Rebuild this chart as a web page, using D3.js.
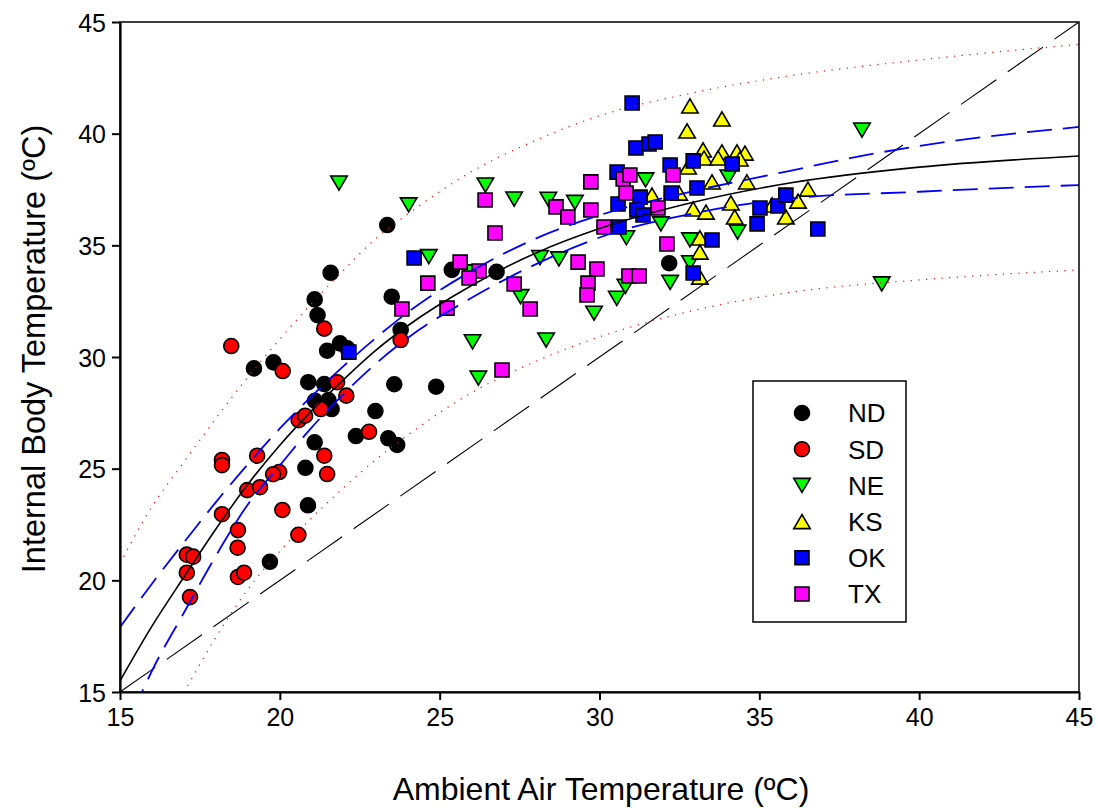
<!DOCTYPE html>
<html>
<head>
<meta charset="utf-8">
<script src="https://cdn.jsdelivr.net/npm/d3@7"></script>
<style>
  html, body { margin: 0; padding: 0; background: #fff; }
  svg { display: block; font-family: "Liberation Sans", Arial, sans-serif; }
</style>
</head>
<body>
<svg id="chart" width="1098" height="808"></svg>
<script>
// Body temperature vs ambient air temperature, by state.

const xTicks = [15, 20, 25, 30, 35, 40, 45];
const yTicks = [15, 20, 25, 30, 35, 40, 45];

const states = ["ND", "SD", "NE", "KS", "OK", "TX"];

// [ambient °C, internal °C]
const ND = [[23.36,35.91],[21.59,33.77],[21.09,32.58],[21.18,31.87],[23.50,32.70],[23.78,31.21],
  [21.88,30.61],[22.11,30.39],[21.48,30.28],[19.19,29.49],[19.80,29.76],[20.89,28.87],[21.39,28.79],
  [23.58,28.78],[24.89,28.67],[21.10,28.04],[21.52,28.07],[21.62,27.67],[22.99,27.58],[21.09,26.18],
  [22.38,26.46],[23.39,26.36],[23.67,26.06],[20.80,25.04],[20.88,23.36],[19.69,20.83],[25.38,33.90],
  [26.78,33.81],[32.18,34.20]];
const SD = [[18.48,30.49],[21.39,31.27],[23.78,30.76],[20.09,29.37],[21.79,28.87],[22.08,28.27],
  [21.28,27.67],[20.59,27.17],[20.79,27.37],[22.79,26.65],[21.39,25.58],[19.29,25.58],[18.19,25.39],
  [18.19,25.16],[21.48,24.76],[19.98,24.85],[19.79,24.75],[18.98,24.04],[19.38,24.17],[18.19,22.96],
  [20.08,23.15],[18.69,22.25],[18.68,21.46],[20.58,22.04],[17.09,21.15],[17.29,21.06],[17.09,20.34],
  [18.69,20.15],[18.88,20.34],[17.19,19.25]];
const NE = [[21.85,37.79],[24.03,36.81],[24.66,34.49],[26.43,37.70],[27.33,37.07],[28.40,37.06],
  [29.23,36.92],[28.14,34.45],[28.73,34.39],[27.53,32.70],[26.03,30.68],[28.33,30.76],[26.21,29.05],
  [29.83,31.96],[30.54,32.63],[30.81,33.16],[30.84,35.34],[31.44,37.93],[31.92,35.96],[32.21,33.34],
  [32.83,35.24],[32.83,34.22],[34.03,38.06],[34.32,35.59],[38.21,40.16],[38.83,33.27],[25.92,33.81]];
const KS = [[32.83,41.24],[33.83,40.66],[32.74,40.12],[33.24,39.27],[33.83,39.18],[34.30,39.18],
  [34.55,39.13],[33.27,38.91],[33.71,38.91],[32.77,38.51],[33.52,37.84],[34.61,37.84],[36.52,37.52],
  [31.64,37.25],[32.49,37.34],[32.93,36.63],[33.33,36.49],[34.11,36.90],[34.23,36.27],[36.21,36.98],
  [35.83,36.27],[35.40,36.81],[33.14,35.33],[33.14,34.70],[33.14,33.58],[34.39,38.87]];
const OK = [[31.02,41.37],[31.14,39.36],[31.55,39.54],[31.74,39.63],[32.21,38.60],[32.93,38.78],
  [34.15,38.64],[33.05,37.57],[32.24,37.34],[31.27,37.16],[30.58,36.85],[31.17,36.58],[31.36,36.36],
  [30.61,35.82],[35.02,36.67],[34.93,35.96],[35.58,36.76],[35.83,37.25],[36.83,35.73],[33.52,35.24],
  [32.93,33.76],[24.20,34.43],[22.16,30.22],[30.55,38.28]];
const TX = [[26.42,37.03],[26.73,35.55],[25.64,34.25],[26.23,33.85],[25.92,33.54],[24.63,33.31],
  [23.82,32.15],[25.23,32.19],[27.33,33.27],[27.83,32.15],[26.95,29.42],[28.64,36.72],[29.01,36.27],
  [29.73,37.84],[29.73,36.58],[30.14,35.82],[29.33,34.25],[29.92,33.94],[29.64,33.31],[29.61,32.78],
  [30.92,33.63],[31.24,33.63],[32.11,35.06],[30.74,37.97],[30.95,38.15],[30.83,37.34],[31.83,36.67],
  [32.30,38.15]];

// Fitted curve, 95% confidence and prediction bands, sampled along x
const fitX   = [15, 16, 17, 18, 19, 20, 21, 22, 23, 24, 26, 28, 30, 33, 36, 40, 45];
const fitY   = [15.5, 17.95, 20.15, 22.3, 24.3, 26.05, 27.6, 29.0, 30.3, 31.4, 33.2, 34.65, 35.75, 36.95, 37.8, 38.5, 39.0];
const confUpX = [15, 16, 17, 18, 19, 20, 21, 22, 23, 24, 26, 28, 30, 33, 36, 38, 40, 45];
const confUpY = [17.9, 19.85, 21.7, 23.5, 25.2, 26.8, 28.25, 29.6, 30.85, 32.0, 33.85, 35.3, 36.35, 37.45, 38.35, 38.95, 39.45, 40.3];
const confLoX = [15.4, 16, 17, 18, 19, 20, 21, 22, 23, 24, 26, 28, 30, 33, 36, 40, 45];
const confLoY = [14.1, 15.95, 18.55, 21.1, 23.4, 25.15, 26.85, 28.35, 29.7, 30.85, 32.65, 34.15, 35.35, 36.45, 37.1, 37.4, 37.7];
const predUpX = [15, 16, 17, 18, 19, 20, 21, 22, 23, 24, 26, 28, 30, 33, 36, 40, 45];
const predUpY = [20.75, 23.3, 25.3, 27.25, 29.1, 30.8, 32.4, 33.9, 35.3, 36.4, 38.3, 39.7, 40.8, 41.85, 42.6, 43.3, 44.0];
const predLoX = [16.5, 17, 18, 19, 20, 21, 22, 23, 24, 26, 28, 30, 33, 36, 40, 45];
const predLoY = [13.8, 15.0, 17.45, 19.6, 21.3, 22.8, 24.15, 25.4, 26.5, 28.4, 29.8, 30.9, 32.1, 32.9, 33.45, 33.9];
const unityX = [15, 45];
const unityY = [15, 45];

const fill = { ND: "#000000", SD: "#ff0000", NE: "#00ff00", KS: "#ffff00", OK: "#0000ff", TX: "#ff00ff" };
const shape = { ND: "circle", SD: "circle", NE: "down", KS: "up", OK: "square", TX: "square" };
const seriesData = { ND, SD, NE, KS, OK, TX };

const W = 1098, H = 808;
const m = { left: 120, top: 22, right: 19, bottom: 116 };
const iw = W - m.left - m.right, ih = H - m.top - m.bottom;

const svg = d3.select("#chart");
const g = svg.append("g").attr("transform", `translate(${m.left},${m.top})`);

const x = d3.scaleLinear().domain([15, 45]).range([0, iw]);
const y = d3.scaleLinear().domain([15, 45]).range([ih, 0]);

svg.append("defs").append("clipPath").attr("id", "plotClip")
  .append("rect").attr("x", 0).attr("y", 0).attr("width", iw).attr("height", ih);

function markerPath(kind, s) {
  const h = s / 2;
  if (kind === "circle") return d3.symbol(d3.symbolCircle, Math.PI * h * h)();
  if (kind === "square") return `M${-h},${-h}H${h}V${h}H${-h}Z`;
  const tw = s * 0.55, th = s * 0.47;
  if (kind === "down") return `M${-tw},${-th}L${tw},${-th}L0,${th}Z`;
  return `M${-tw},${th}L${tw},${th}L0,${-th}Z`;
}

// points
const pts = g.append("g");
states.forEach(st => {
  pts.selectAll(null).data(seriesData[st]).enter().append("path")
    .attr("d", markerPath(shape[st], shape[st] === "square" ? 14 : 15))
    .attr("transform", d => `translate(${x(d[0])},${y(d[1])})`)
    .attr("fill", fill[st]).attr("stroke", "#000").attr("stroke-width", 1.6);
});

// lines on top of the points
const lines = g.append("g").attr("clip-path", "url(#plotClip)");
const lineGen = d3.line().x(d => x(d[0])).y(d => y(d[1])).curve(d3.curveMonotoneX);
const zip = (a, b) => a.map((v, i) => [v, b[i]]);

lines.append("path").attr("d", lineGen(zip(unityX, unityY)))
  .attr("fill", "none").attr("stroke", "#000").attr("stroke-width", 1.1).attr("stroke-dasharray", "43,14");
lines.append("path").attr("d", lineGen(zip(predUpX, predUpY)))
  .attr("fill", "none").attr("stroke", "#ff0000").attr("stroke-width", 1.2).attr("stroke-dasharray", "1.2,6.5");
lines.append("path").attr("d", lineGen(zip(predLoX, predLoY)))
  .attr("fill", "none").attr("stroke", "#ff0000").attr("stroke-width", 1.2).attr("stroke-dasharray", "1.2,6.5");
lines.append("path").attr("d", lineGen(zip(confUpX, confUpY)))
  .attr("fill", "none").attr("stroke", "#0000ff").attr("stroke-width", 1.8).attr("stroke-dasharray", "25,11");
lines.append("path").attr("d", lineGen(zip(confLoX, confLoY)))
  .attr("fill", "none").attr("stroke", "#0000ff").attr("stroke-width", 1.8).attr("stroke-dasharray", "25,11");
lines.append("path").attr("d", lineGen(zip(fitX, fitY)))
  .attr("fill", "none").attr("stroke", "#000").attr("stroke-width", 1.6);

// frame and axes
g.append("rect").attr("x", 0).attr("y", 0).attr("width", iw).attr("height", ih)
  .attr("fill", "none").attr("stroke", "#000").attr("stroke-width", 1.5);

const xAxis = g.append("g").attr("transform", `translate(0,${ih})`)
  .call(d3.axisBottom(x).tickValues(xTicks).tickSize(8).tickSizeOuter(0).tickPadding(8));
const yAxis = g.append("g")
  .call(d3.axisLeft(y).tickValues(yTicks).tickSize(8).tickSizeOuter(0).tickPadding(6));
[xAxis, yAxis].forEach(a => {
  a.select(".domain").attr("stroke", "#000").attr("stroke-width", 2.2);
  a.selectAll(".tick line").attr("stroke", "#000").attr("stroke-width", 2);
  a.selectAll(".tick text").attr("fill", "#000").style("font-size", "25px")
    .style("font-family", "'Liberation Sans', Arial, sans-serif");
});
yAxis.selectAll(".tick text").attr("dy", "0.36em");

svg.append("text").attr("x", 601).attr("y", 800).attr("text-anchor", "middle")
  .style("font-size", "32px").text("Ambient Air Temperature (ºC)");
svg.append("text").attr("transform", `translate(45,349) rotate(-90)`)
  .attr("text-anchor", "middle").style("font-size", "32.5px").text("Internal Body Temperature (ºC)");

// legend
const lg = svg.append("g");
lg.append("rect").attr("x", 753).attr("y", 381).attr("width", 153).attr("height", 241)
  .attr("fill", "#fff").attr("stroke", "#000").attr("stroke-width", 1.5);
states.forEach((st, i) => {
  const cy = 413 + i * 36.2;
  lg.append("path").attr("d", markerPath(shape[st], shape[st] === "square" ? 14 : 15))
    .attr("transform", `translate(802,${cy})`)
    .attr("fill", fill[st]).attr("stroke", "#000").attr("stroke-width", 1.6);
  lg.append("text").attr("x", 848).attr("y", cy).attr("dy", "0.36em")
    .style("font-size", "26px").text(st);
});
</script>
</body>
</html>
